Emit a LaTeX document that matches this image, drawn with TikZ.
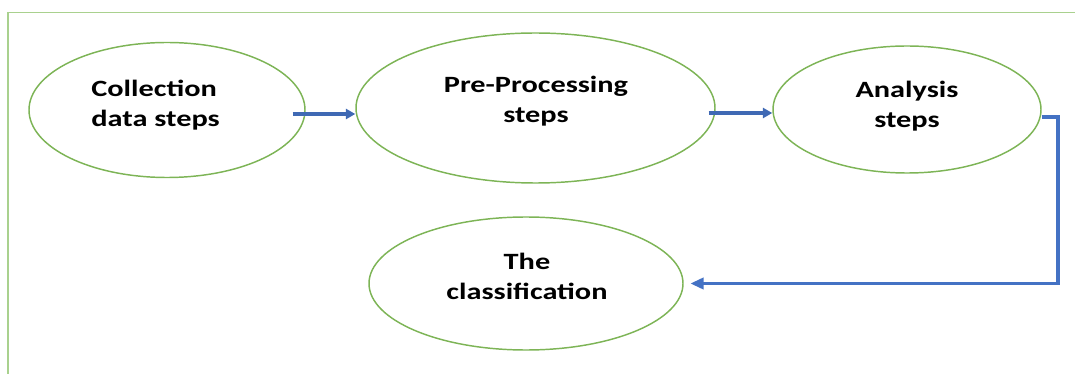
\documentclass[tikz,border=0pt]{standalone}
\usepackage{fontspec}
\setmainfont{Carlito}[FakeStretch=1.3]
\usetikzlibrary{arrows.meta,shapes.geometric}
\definecolor{framegreen}{HTML}{A9D18E}
\definecolor{stagegreen}{HTML}{7DB456}
\definecolor{flowblue}{HTML}{3F69B4}
\definecolor{linkblue}{HTML}{4472C4}
\begin{document}
\begin{tikzpicture}[x=0.75pt,y=-0.75pt,
  stage/.style={ellipse, draw=stagegreen, line width=1.1pt, inner sep=0pt},
  steptext/.style={font=\bfseries\fontsize{17.5}{22.5}\selectfont, text=black, inner sep=0pt},
  flow/.style={draw=flowblue, line width=3.5pt, -{Triangle[length=7pt,width=7.5pt]}},
  feedback/.style={draw=linkblue, line width=2.4pt, -{Triangle[length=10pt,width=8.5pt]}},
  frame/.style={draw=framegreen, line width=1.1pt}]
\useasboundingbox (0,0) rectangle (1075,374);

% partial frame: top and left edges
\draw[frame] (1075,12.5) -- (8,12.5) -- (8,374);

% process stages
\node[stage, minimum width=207pt, minimum height=101.25pt] (e1) at (167,110) {};
\node[stage, minimum width=269.25pt, minimum height=112.5pt] (e2) at (535.5,108) {};
\node[stage, minimum width=201pt, minimum height=95.25pt] (e3) at (907,109.5) {};
\node[stage, minimum width=235.5pt, minimum height=99.75pt] (e4) at (526,283.5) {};

% stage captions
\node[steptext, align=left] (t1) at (155.5,105.5) {Collection\\data steps};
\node[steptext, align=center] (t2) at (536,101) {Pre-Processing\\steps};
\node[steptext, align=center] (t3) at (907,106) {Analysis\\steps};
\node[steptext, align=center] (t4) at (527,276.5) {The\\classification};

% forward arrows
\coordinate (a1) at ([xshift=-9.75pt,yshift=-3pt]e1.east);
\draw[flow] (a1) -- (a1 -| e2.west);
\coordinate (a2) at ([xshift=-5.25pt,yshift=-3.75pt]e2.east);
\draw[flow] (a2) -- (a2 -| e3.west);

% return link to the classification
\coordinate (a3) at ([yshift=-5.6pt]e3.east);
\coordinate (turn) at (1058,200);
\draw[feedback, shorten >=5pt] (a3) -| (turn) |- (e4.east);
\end{tikzpicture}
\end{document}
